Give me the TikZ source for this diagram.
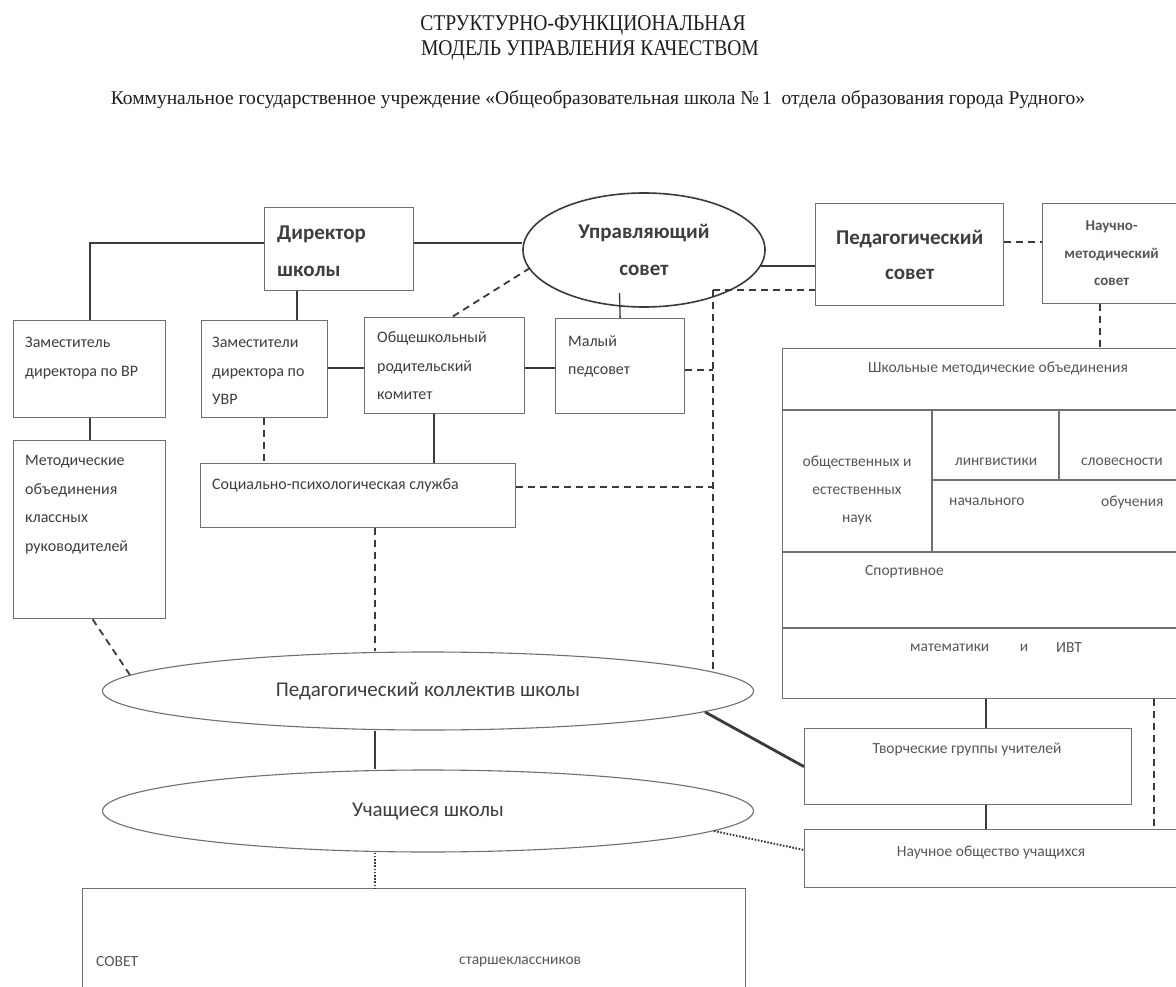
\documentclass[tikz,border=0pt]{standalone}
\usepackage{fontspec}
\usepackage{graphicx}
\setmainfont{Carlito}
\newfontfamily\serifff{Liberation Serif}
\usetikzlibrary{shapes.geometric}
\definecolor{ln}{HTML}{3A3A3A}
\definecolor{bx}{HTML}{707070}
\definecolor{tx}{HTML}{3E3E3E}
\definecolor{tl}{HTML}{575757}
\definecolor{tt}{HTML}{1E1E1E}
\begin{document}
\begin{tikzpicture}[x=1pt,y=-1pt,
  box/.style={draw=bx,line width=1.3pt,rectangle,inner sep=0pt,anchor=north west},
  ell/.style={draw=ln,line width=1.6pt,ellipse,inner sep=0pt},
  ellb/.style={draw=bx,line width=1.1pt,ellipse,inner sep=0pt},
  lbl/.style={font=\fontsize{16}{28.5}\selectfont,text=tx,align=left,inner sep=0pt,anchor=west},
  lbs/.style={font=\fontsize{15.5}{28}\selectfont,text=tl,align=center,inner sep=0pt},
  thk/.style={draw=ln,line width=2.2pt},
  thkk/.style={draw=ln,line width=2.8pt},
  thn/.style={draw=ln,line width=1.3pt},
  dsh/.style={draw=ln,line width=1.8pt,dash pattern=on 7pt off 5pt},
  dotl/.style={draw=ln,line width=2pt,dash pattern=on 1.6pt off 1.6pt}
]
\useasboundingbox (0,0) rectangle (1176,987);
\fill[white] (0,0) rectangle (1176,987);
\clip (0,0) rectangle (1176,987);

% titles
\node[font=\serifff\fontsize{22.5}{26}\selectfont,text=tt,inner sep=0pt] (title1) at (583,25) {\scalebox{0.87}[1]{СТРУКТУРНО-ФУНКЦИОНАЛЬНАЯ}};
\node[font=\serifff\fontsize{22.5}{26}\selectfont,text=tt,inner sep=0pt] (title2) at (590,50) {\scalebox{0.87}[1]{МОДЕЛЬ УПРАВЛЕНИЯ КАЧЕСТВОМ}};
\node[font=\serifff\fontsize{19.5}{23}\selectfont,text=tt,inner sep=0pt] (subt) at (598,100) {Коммунальное государственное учреждение «Общеобразовательная школа №\,1~ отдела образования города Рудного»};

% helper coordinates
\coordinate (y243) at (0,243);
\coordinate (y242) at (0,242);
\coordinate (y368) at (0,368);
\coordinate (y370) at (0,370);
\coordinate (y487) at (0,487);
\coordinate (y850) at (0,850);
\coordinate (x297) at (297,0);
\coordinate (x264) at (264,0);
\coordinate (x434) at (434,0);
\coordinate (x452) at (452,0);
\coordinate (x375) at (375,0);
\coordinate (x986) at (986,0);
\coordinate (x1100) at (1100,0);
\coordinate (x1154) at (1154,0);
\coordinate (c713) at (713,290);

% boxes
\node[box,minimum width=149pt,minimum height=83pt] (dir) at (264,207) {};
\node[font=\bfseries\fontsize{21}{37}\selectfont,text=tx,align=left,inner sep=0pt,anchor=west] (dirtxt) at (277,251.5) {Директор\\школы};
\node[ell,minimum width=242pt,minimum height=114pt,font=\bfseries\fontsize{21}{37}\selectfont,text=tx,align=center] (uprav) at (644,250) {Управляющий\\совет};
\node[box,minimum width=188pt,minimum height=102pt,font=\bfseries\fontsize{21}{35}\selectfont,text=tx,align=center] (ped) at (815,203) {Педагогический\\совет};
\node[box,minimum width=138pt,minimum height=100pt,font=\bfseries\fontsize{15}{27.5}\selectfont,text=tl,align=center] (nms) at (1042,203) {Научно-\\методический\\совет};

\node[box,minimum width=152pt,minimum height=97pt] (zamvr) at (13,320) {};
\node[lbl] (zamvrt) at (25,358) {Заместитель\\директора по ВР};
\node[box,minimum width=126pt,minimum height=97pt] (uvr) at (201,320) {};
\node[lbl] (uvrt) at (212,371) {Заместители\\директора по\\УВР};
\node[box,minimum width=160pt,minimum height=96pt] (obsh) at (364,317) {};
\node[lbl] (obsht) at (377,366) {Общешкольный\\родительский\\комитет};
\node[box,minimum width=129pt,minimum height=95pt] (mal) at (555,318) {};
\node[lbl] (malt) at (568,356.5) {Малый\\педсовет};
\node[box,minimum width=152pt,minimum height=178pt] (metod) at (13,440) {};
\node[lbl] (metodt) at (25,504.5) {Методические\\объединения\\классных\\руководителей};
\node[box,minimum width=315pt,minimum height=64pt] (soc) at (200,463) {};
\node[lbl] (soct) at (212,485) {Социально-психологическая служба};

% big box
\node[box,minimum width=408pt,minimum height=350pt] (big) at (782,348) {};
\draw[draw=bx,line width=1.3pt] (782,410) -- (1190,410);
\draw[draw=bx,line width=1.3pt] (932,410) -- (932,552);
\draw[draw=bx,line width=1.6pt] (1059,410) -- (1059,480);
\draw[draw=bx,line width=1.8pt] (932,480) -- (1190,480);
\draw[draw=bx,line width=1.3pt] (782,552) -- (1190,552);
\draw[draw=bx,line width=1.3pt] (782,628) -- (1190,628);
\node[lbs] (bigh) at (998,368) {Школьные методические объединения};
\node[lbs] (c1) at (857,490) {общественных и\\естественных\\наук};
\node[lbs] (c2) at (996,462) {лингвистики};
\node[lbs] (c3) at (1122,462) {словесности};
\node[lbs,anchor=west] (c4) at (949,502) {начального};
\node[lbs,anchor=west] (c5) at (1101,502) {обучения};
\node[lbs,anchor=west] (c6) at (865,572) {Спортивное};
\node[lbs,anchor=west] (c7) at (910,648) {математики};
\node[lbs] (c8) at (1024,648) {и};
\node[lbs,anchor=west] (c9) at (1056,648) {ИВТ};

\node[box,minimum width=327pt,minimum height=76pt] (tvor) at (804,728) {};
\node[lbs] (tvort) at (967,750) {Творческие группы учителей};
\node[box,minimum width=376pt,minimum height=58pt] (nauch) at (804,829) {};
\node[lbs] (naucht) at (991,852) {Научное общество учащихся};

\node[ellb,minimum width=651pt,minimum height=78pt,font=\fontsize{21}{25}\selectfont,text=tx] (pkol) at (428,691) {Педагогический коллектив школы};
\node[ellb,minimum width=651pt,minimum height=82pt,font=\fontsize{21}{25}\selectfont,text=tx] (uch) at (428,811) {Учащиеся школы};

\node[box,minimum width=663pt,minimum height=112pt] (sovet) at (82,888) {};
\node[lbs,anchor=west] (sovt1) at (96,962) {СОВЕТ};
\node[lbs,anchor=west] (sovt2) at (459,962) {старшеклассников};

% points on ellipse borders
\coordinate (up1) at ([shift={(116,16)}]uprav.center);
\coordinate (up2) at ([shift={(-114,18)}]uprav.center);
\coordinate (pk1) at ([shift={(285,-19)}]pkol.center);
\coordinate (pk2) at ([shift={(-298,-16)}]pkol.center);
\coordinate (pk3) at ([shift={(277,21)}]pkol.center);
\coordinate (uc1) at ([shift={(286,20)}]uch.center);

% connectors
\draw[thk] (dir.east |- y243) -- (uprav.west |- y243);
\draw[thk] (dir.west |- y243) -| (zamvr.north);
\draw[thk] (zamvr.south) -- (metod.north);
\draw[thk] (x297 |- dir.south) -- (x297 |- uvr.north);
\draw[thn] (uvr.east |- y368) -- (obsh.west |- y368);
\draw[thk] (obsh.east |- y368) -- (mal.west |- y368);
\draw[dsh] (up2) -- (x452 |- obsh.north);
\draw[thn] ([xshift=-24.5pt,yshift=15pt]uprav.south) -- (mal.north);
\draw[thkk] (up1) -- (up1 -| ped.west);
\draw[dsh] (c713) -- (c713 -| ped.west);
\draw[dsh] (c713) -- (pk1);
\draw[dsh] (mal.east |- y370) -- (c713 |- y370);
\draw[dsh] (soc.east |- y487) -- (c713 |- y487);
\draw[dsh] (x264 |- uvr.south) -- (x264 |- soc.north);
\draw[thn] (x434 |- obsh.south) -- (x434 |- soc.north);
\draw[dsh] (x375 |- soc.south) -- (x375 |- pkol.north);
\draw[dsh] ([xshift=3pt]metod.south) -- (pk2);
\draw[thn] (x375 |- pkol.south) -- (x375 |- uch.north);
\draw[dotl] (x375 |- uch.south) -- (x375 |- sovet.north);
\draw[thkk] (pk3) -- (tvor.west);
\draw[dotl] (uc1) -- (nauch.west |- y850);
\draw[dsh] (ped.east |- y242) -- (nms.west |- y242);
\draw[dsh] (x1100 |- nms.south) -- (x1100 |- big.north);
\draw[thn] (x986 |- big.south) -- (x986 |- tvor.north);
\draw[thn] (x986 |- tvor.south) -- (x986 |- nauch.north);
\draw[dsh] (x1154 |- big.south) -- (x1154 |- nauch.north);
\end{tikzpicture}
\end{document}
